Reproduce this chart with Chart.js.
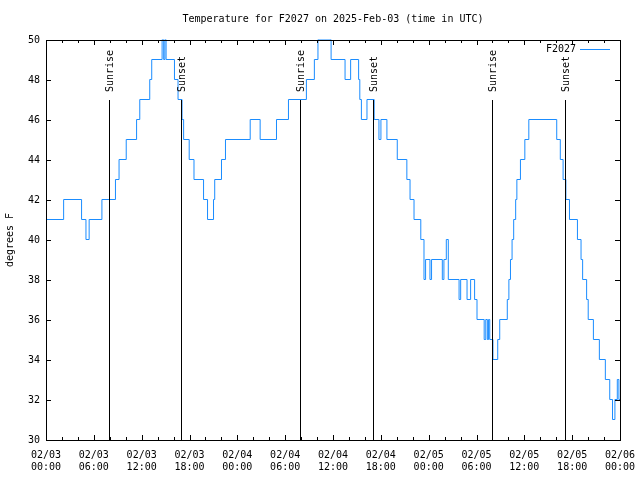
<!DOCTYPE html>
<html>
<head>
<meta charset="utf-8">
<script src="https://cdn.jsdelivr.net/npm/chart.js@4.4.1/dist/chart.umd.min.js"></script>
<style>
html, body { margin: 0; padding: 0; background: #fff; }
</style>
</head>
<body>
<canvas id="myChart" width="640" height="480"></canvas>
<script>
// hours since 02/03 00:00 UTC, and the reading that starts at that hour
var hours = [0, 2.15, 4.4, 4.95, 5.35, 6.95, 8.65, 9.1, 10.0, 11.3, 11.7, 12.95, 13.2, 14.5, 14.7, 14.85, 15.0,
    16.05, 16.5, 17.0, 17.2, 17.9, 18.5, 19.7, 20.2, 20.95, 21.1, 21.95, 22.45, 25.55, 26.8, 28.85, 30.35,
    32.6, 33.6, 34.05, 35.7, 37.45, 38.15, 39.15, 39.3, 39.5, 40.2, 41.1, 41.7, 41.95, 42.7, 44.0, 45.2,
    45.6, 46.1, 46.95, 47.35, 47.55, 48.1, 48.3, 49.65, 49.85, 50.15, 50.4, 51.75, 51.95, 52.75, 53.2,
    53.7, 54.0, 54.9, 55.1, 55.3, 55.45, 55.6, 56.0, 56.6, 56.85, 57.8, 58.0, 58.2, 58.4, 58.6, 58.85,
    59.0, 59.45, 60.0, 60.5, 64.0, 64.45, 64.8, 65.15, 65.6, 66.6, 67.05, 67.25, 67.75, 67.95, 68.6,
    69.35, 70.1, 70.65, 71.0, 71.3, 71.6, 71.8, 72];
var tempF = [41, 42, 41, 40, 41, 42, 43, 44, 45, 46, 47, 48, 49, 50, 49, 50, 49,
    48, 47, 46, 45, 44, 43, 42, 41, 42, 43, 44, 45, 46, 45, 46, 47,
    48, 49, 50, 49, 48, 49, 48, 47, 46, 47, 46, 45, 46, 45, 44, 43,
    42, 41, 40, 38, 39, 38, 39, 38, 39, 40, 38, 37, 38, 37, 38,
    37, 36, 35, 36, 35, 36, 35, 34, 35, 36, 37, 38, 39, 40, 41, 42,
    43, 44, 45, 46, 45, 44, 43, 42, 41, 40, 39, 38, 37, 36, 35,
    34, 33, 32, 31, 32, 33, 32, 32];

var sunLabels = ['Sunrise', 'Sunset', 'Sunrise', 'Sunset', 'Sunrise', 'Sunset'];
var sunHours = [7.93, 16.97, 31.9, 41.05, 55.97, 65.13];
var sunTop = 47;

var xTickDates = ['02/03', '02/03', '02/03', '02/03', '02/04', '02/04', '02/04', '02/04', '02/05', '02/05', '02/05', '02/05', '02/06'];
var xTickTimes = ['00:00', '06:00', '12:00', '18:00', '00:00', '06:00', '12:00', '18:00', '00:00', '06:00', '12:00', '18:00', '00:00'];
var yTicks = [30, 32, 34, 36, 38, 40, 42, 44, 46, 48, 50];

var points = [];
for (var i = 0; i < hours.length; i++) {
    points.push({ x: hours[i], y: tempF[i] });
}

var FONT = "'DejaVu Sans Mono', monospace";
Chart.defaults.font.family = FONT;
Chart.defaults.font.size = 10;
Chart.defaults.color = '#000';

var gnuplotBits = {
    id: 'gnuplotBits',
    beforeDatasetsDraw: function(chart) {
        // half pixel shift so 1px lines land on whole pixels
        chart.ctx.save();
        chart.ctx.translate(0.5, -0.5);
    },
    afterDatasetsDraw: function(chart) {
        var ctx = chart.ctx;
        ctx.restore();
        var a = chart.chartArea;
        var xs = chart.scales.x;
        var ys = chart.scales.y;
        ctx.save();
        ctx.strokeStyle = '#000';
        ctx.lineWidth = 1;

        // sunrise / sunset markers
        var yTop = Math.round(ys.getPixelForValue(sunTop));
        for (var i = 0; i < sunHours.length; i++) {
            var px = Math.round(xs.getPixelForValue(sunHours[i])) + 0.5;
            ctx.beginPath();
            ctx.moveTo(px, yTop);
            ctx.lineTo(px, a.bottom);
            ctx.stroke();
            ctx.save();
            ctx.translate(px + 1, yTop - 8);
            ctx.rotate(-Math.PI / 2);
            ctx.fillStyle = '#000';
            ctx.font = '10px ' + FONT;
            ctx.textAlign = 'left';
            ctx.textBaseline = 'middle';
            ctx.fillText(sunLabels[i], 0, 0);
            ctx.restore();
        }

        // frame
        ctx.strokeRect(Math.round(a.left) + 0.5, Math.round(a.top) + 0.5,
            Math.round(a.right - a.left), Math.round(a.bottom - a.top));

        // inward ticks, x: major every 6h, minor every 2h
        ctx.beginPath();
        for (var h = 0; h <= 72; h += 2) {
            var tx = Math.round(xs.getPixelForValue(h)) + 0.5;
            var len = (h % 6 === 0) ? 5 : 3;
            ctx.moveTo(tx, a.bottom);
            ctx.lineTo(tx, a.bottom - len);
            ctx.moveTo(tx, a.top);
            ctx.lineTo(tx, a.top + len);
        }
        for (var j = 0; j < yTicks.length; j++) {
            var ty = Math.round(ys.getPixelForValue(yTicks[j])) + 0.5;
            ctx.moveTo(a.left, ty);
            ctx.lineTo(a.left + 5, ty);
            ctx.moveTo(a.right, ty);
            ctx.lineTo(a.right - 5, ty);
        }
        ctx.stroke();

        // title
        ctx.fillStyle = '#000';
        ctx.font = '10px ' + FONT;
        ctx.textAlign = 'center';
        ctx.textBaseline = 'middle';
        ctx.fillText('Temperature for F2027 on 2025-Feb-03 (time in UTC)', (a.left + a.right) / 2, 19);

        // legend
        ctx.textAlign = 'right';
        ctx.fillText(chart.data.datasets[0].label, 576, 49);
        ctx.strokeStyle = chart.data.datasets[0].borderColor;
        ctx.beginPath();
        ctx.moveTo(580, 49.5);
        ctx.lineTo(610, 49.5);
        ctx.stroke();
        ctx.restore();
    }
};

var ctx = document.getElementById('myChart');
var chart = new Chart(ctx, {
    type: 'line',
    data: {
        datasets: [{
            label: 'F2027',
            data: points,
            borderColor: '#1a8cff',
            borderWidth: 1,
            pointRadius: 0,
            stepped: 'before',
            fill: false
        }]
    },
    options: {
        responsive: false,
        animation: false,
        layout: { padding: { top: 40, right: 20, left: 0, bottom: 0 } },
        plugins: {
            legend: { display: false },
            tooltip: { enabled: false }
        },
        scales: {
            x: {
                type: 'linear',
                min: 0,
                max: 72,
                afterFit: function(s) {
                    s.height = 40;
                    s.paddingLeft = 0;
                    s.paddingRight = 0;
                },
                afterBuildTicks: function(s) {
                    s.ticks = xTickDates.map(function(d, i) { return { value: i * 6 }; });
                },
                grid: { display: false, drawTicks: false },
                border: { display: false },
                ticks: {
                    autoSkip: false,
                    maxRotation: 0,
                    padding: 9,
                    callback: function(v, i) { return [xTickDates[i], xTickTimes[i]]; }
                }
            },
            y: {
                min: 30,
                max: 50,
                afterFit: function(s) { s.width = 46; },
                afterBuildTicks: function(s) {
                    s.ticks = yTicks.map(function(v) { return { value: v }; });
                },
                grid: { display: false, drawTicks: false },
                border: { display: false },
                title: { display: true, text: 'degrees F', padding: 4 },
                ticks: { padding: 6 }
            }
        }
    },
    plugins: [gnuplotBits]
});
</script>
</body>
</html>
